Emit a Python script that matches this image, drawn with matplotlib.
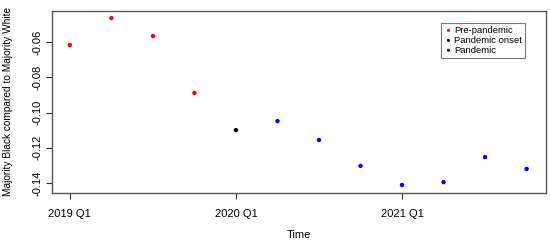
import numpy as np
import matplotlib
matplotlib.use('Agg')
import matplotlib.pyplot as plt

plt.rcParams['font.family'] = ['Liberation Sans', 'DejaVu Sans']

# quarterly values, 2019 Q1 .. 2021 Q4
quarters = np.arange(12)
values = [-0.0617, -0.0464, -0.0566, -0.0889, -0.1100, -0.1049,
          -0.1156, -0.1303, -0.1411, -0.1395, -0.1253, -0.1320]
periods = ['Pre-pandemic'] * 4 + ['Pandemic onset'] + ['Pandemic'] * 7
period_colors = {'Pre-pandemic': 'red', 'Pandemic onset': 'black', 'Pandemic': 'blue'}

tick_pos = [0, 4, 8]
tick_labels = ['2019 Q1', '2020 Q1', '2021 Q1']
yticks = [-0.06, -0.08, -0.10, -0.12, -0.14]

fig = plt.figure(figsize=(5.5, 2.44), dpi=100)
ax = fig.add_axes([52 / 550, 1 - 192.7 / 244, (545.7 - 52) / 550, (192.7 - 11) / 244])

for name, col in period_colors.items():
    idx = [i for i, p in enumerate(periods) if p == name]
    ax.scatter(quarters[idx], np.array(values)[idx], s=10, c=col, label=name,
               edgecolors='none', zorder=3)

ax.set_xlim(-0.43, 11.46)
ax.set_ylim(-0.1455, -0.0424)
ax.set_xticks(tick_pos)
ax.set_xticklabels(tick_labels, fontsize=8)
ax.set_yticks(yticks)
ax.set_yticklabels(['%.2f' % v for v in yticks], fontsize=8, rotation=90, va='center')
ax.tick_params(direction='out', length=4, width=0.8, color='#333333', pad=3)
ax.tick_params(axis='x', pad=8)
for sp in ax.spines.values():
    sp.set_color('#555555')
    sp.set_linewidth(1)

ax.set_xlabel('Time', fontsize=8, labelpad=8)
ax.set_ylabel('Majority Black compared to Majority White', fontsize=7.3)
ax.yaxis.set_label_coords(-39 / 493.7, 0.505)

leg = ax.legend(loc='upper right', bbox_to_anchor=(0.958, 0.934), fontsize=6.8,
                frameon=True, fancybox=False, handletextpad=0.1, borderpad=0.3,
                borderaxespad=0, labelspacing=0.1, handlelength=1.0, markerscale=0.7)
leg.get_frame().set_edgecolor('#555555')
leg.get_frame().set_linewidth(0.8)

fig.savefig('out.png', dpi=100)
